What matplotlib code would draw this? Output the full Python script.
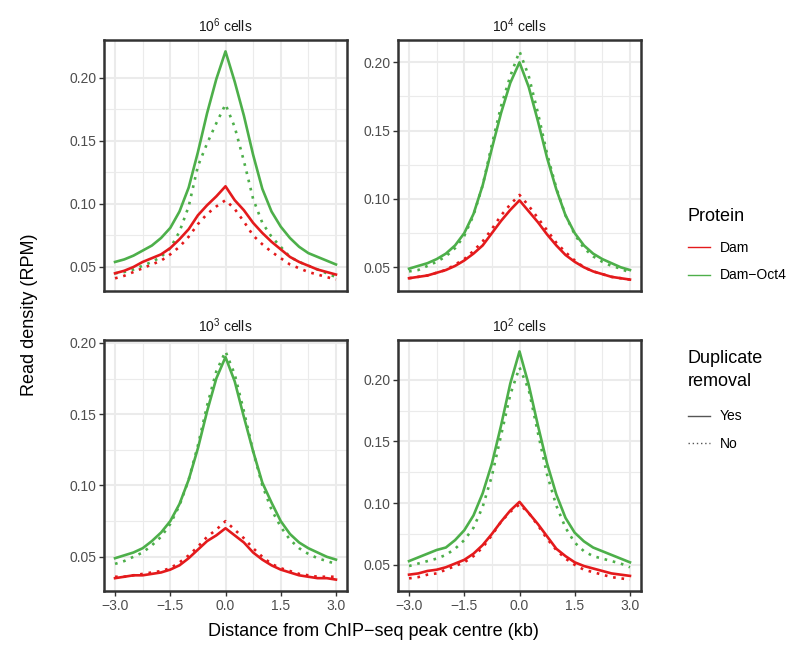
import numpy as np
import matplotlib
matplotlib.use("Agg")
import matplotlib.pyplot as plt
from matplotlib.lines import Line2D

plt.rcParams["font.family"] = ["Liberation Sans", "DejaVu Sans"]
plt.rcParams["mathtext.fontset"] = "custom"
plt.rcParams["mathtext.rm"] = "Liberation Sans"
plt.rcParams["mathtext.it"] = "Liberation Sans:italic"

# distance from peak centre (kb)
dist = [-3.0, -2.75, -2.5, -2.25, -2.0, -1.75, -1.5, -1.25, -1.0, -0.75, -0.5, -0.25, 0.0,
        0.25, 0.5, 0.75, 1.0, 1.25, 1.5, 1.75, 2.0, 2.25, 2.5, 2.75, 3.0]

panels = ["$10^6$ cells", "$10^4$ cells", "$10^3$ cells", "$10^2$ cells"]

# read density (RPM): [panel] -> series
oct4_yes = [
    [0.054, 0.056, 0.059, 0.063, 0.067, 0.073, 0.081, 0.094, 0.113, 0.141, 0.172, 0.199, 0.221,
     0.197, 0.170, 0.139, 0.112, 0.094, 0.082, 0.073, 0.066, 0.061, 0.058, 0.055, 0.052],
    [0.049, 0.051, 0.053, 0.056, 0.060, 0.066, 0.075, 0.089, 0.110, 0.137, 0.163, 0.185, 0.200,
     0.182, 0.157, 0.130, 0.107, 0.088, 0.075, 0.066, 0.060, 0.056, 0.053, 0.050, 0.048],
    [0.049, 0.051, 0.053, 0.056, 0.061, 0.067, 0.075, 0.087, 0.104, 0.126, 0.152, 0.175, 0.190,
     0.173, 0.148, 0.124, 0.102, 0.088, 0.075, 0.066, 0.060, 0.056, 0.053, 0.050, 0.048],
    [0.053, 0.056, 0.059, 0.062, 0.064, 0.070, 0.078, 0.090, 0.108, 0.132, 0.163, 0.197, 0.223,
     0.196, 0.163, 0.132, 0.107, 0.088, 0.076, 0.069, 0.064, 0.061, 0.058, 0.055, 0.052],
]
oct4_no = [
    [0.045, 0.046, 0.048, 0.051, 0.054, 0.058, 0.065, 0.078, 0.098, 0.130, 0.148, 0.164, 0.179,
     0.161, 0.134, 0.104, 0.085, 0.074, 0.066, 0.058, 0.054, 0.051, 0.048, 0.045, 0.042],
    [0.047, 0.048, 0.051, 0.054, 0.058, 0.064, 0.073, 0.088, 0.110, 0.140, 0.168, 0.190, 0.208,
     0.190, 0.163, 0.133, 0.108, 0.088, 0.074, 0.064, 0.058, 0.054, 0.051, 0.049, 0.046],
    [0.045, 0.047, 0.050, 0.053, 0.058, 0.064, 0.073, 0.086, 0.104, 0.128, 0.156, 0.180, 0.194,
     0.178, 0.152, 0.124, 0.100, 0.083, 0.071, 0.062, 0.056, 0.052, 0.049, 0.047, 0.045],
    [0.049, 0.051, 0.053, 0.055, 0.058, 0.063, 0.070, 0.080, 0.097, 0.122, 0.155, 0.188, 0.210,
     0.192, 0.157, 0.123, 0.098, 0.080, 0.068, 0.061, 0.057, 0.055, 0.053, 0.051, 0.048],
]
dam_yes = [
    [0.045, 0.047, 0.050, 0.054, 0.057, 0.060, 0.065, 0.072, 0.080, 0.091, 0.099, 0.106, 0.114,
     0.103, 0.095, 0.085, 0.077, 0.070, 0.064, 0.058, 0.054, 0.051, 0.048, 0.046, 0.044],
    [0.042, 0.043, 0.044, 0.046, 0.048, 0.051, 0.055, 0.060, 0.066, 0.075, 0.084, 0.092, 0.099,
     0.091, 0.083, 0.074, 0.066, 0.059, 0.054, 0.050, 0.047, 0.045, 0.043, 0.042, 0.041],
    [0.035, 0.036, 0.037, 0.037, 0.038, 0.039, 0.041, 0.044, 0.049, 0.055, 0.061, 0.065, 0.070,
     0.065, 0.060, 0.053, 0.048, 0.044, 0.041, 0.039, 0.037, 0.036, 0.035, 0.035, 0.034],
    [0.042, 0.043, 0.045, 0.046, 0.048, 0.051, 0.054, 0.059, 0.066, 0.075, 0.085, 0.094, 0.101,
     0.092, 0.083, 0.073, 0.063, 0.057, 0.052, 0.049, 0.047, 0.045, 0.043, 0.042, 0.041],
]
dam_no = [
    [0.041, 0.043, 0.046, 0.049, 0.052, 0.055, 0.060, 0.066, 0.074, 0.084, 0.092, 0.098, 0.103,
     0.096, 0.086, 0.075, 0.068, 0.062, 0.057, 0.052, 0.049, 0.046, 0.044, 0.042, 0.040],
    [0.042, 0.043, 0.044, 0.046, 0.048, 0.052, 0.056, 0.062, 0.069, 0.078, 0.088, 0.096, 0.103,
     0.095, 0.086, 0.077, 0.068, 0.061, 0.055, 0.050, 0.047, 0.045, 0.043, 0.042, 0.041],
    [0.036, 0.036, 0.037, 0.038, 0.039, 0.040, 0.042, 0.046, 0.051, 0.057, 0.064, 0.069, 0.075,
     0.069, 0.063, 0.056, 0.050, 0.045, 0.042, 0.040, 0.038, 0.037, 0.036, 0.036, 0.036],
    [0.039, 0.040, 0.042, 0.043, 0.046, 0.049, 0.052, 0.057, 0.064, 0.074, 0.085, 0.093, 0.099,
     0.092, 0.082, 0.071, 0.062, 0.055, 0.050, 0.046, 0.044, 0.042, 0.040, 0.039, 0.038],
]

RED = "#E41A1C"
GREEN = "#4DAF4A"
DOT = (0, (1, 2.2))
LW = 1.9

fig = plt.figure(figsize=(7.98, 6.68), dpi=100)

W, H = 798, 668
boxes = [(104, 40), (398, 40), (104, 340), (398, 340)]
pw, ph = 243, 251

for i, (x0, y0) in enumerate(boxes):
    ax = fig.add_axes([x0 / W, 1 - (y0 + ph) / H, pw / W, ph / H])
    ax.plot(dist, dam_no[i], color=RED, lw=LW, ls=DOT)
    ax.plot(dist, oct4_no[i], color=GREEN, lw=LW, ls=DOT)
    ax.plot(dist, dam_yes[i], color=RED, lw=LW)
    ax.plot(dist, oct4_yes[i], color=GREEN, lw=LW)

    allv = np.concatenate([oct4_yes[i], oct4_no[i], dam_yes[i], dam_no[i]])
    lo, hi = allv.min(), allv.max()
    pad = 0.05 * (hi - lo)
    ax.set_ylim(lo - pad, hi + pad)
    ax.set_xlim(-3.3, 3.3)

    ax.set_xticks([-3, -1.5, 0, 1.5, 3])
    ax.set_xticks([-2.25, -0.75, 0.75, 2.25], minor=True)
    ax.set_yticks([0.05, 0.10, 0.15, 0.20])
    ax.set_yticks([0.075, 0.125, 0.175], minor=True)
    ax.set_yticklabels(["0.05", "0.10", "0.15", "0.20"])
    if i < 2:
        ax.set_xticklabels([])
    else:
        ax.set_xticklabels(["\u22123.0", "\u22121.5", "0.0", "1.5", "3.0"])

    ax.grid(True, which="major", color="#EBEBEB", lw=1.5)
    ax.grid(True, which="minor", color="#EBEBEB", lw=0.8)
    ax.set_axisbelow(True)
    ax.tick_params(which="major", length=3.5, width=1.0, color="#333333",
                   labelsize=10, labelcolor="#4D4D4D", pad=2)
    ax.tick_params(which="minor", length=0)
    if i < 2:
        ax.tick_params(axis="x", which="major", length=0)
    for s in ax.spines.values():
        s.set_color("#333333")
        s.set_linewidth(1.8)
    ax.set_title(panels[i], fontsize=10, color="#1A1A1A", pad=6)

fig.text(30 / W, 1 - 315 / H, "Read density (RPM)", rotation=90,
         ha="center", va="center", fontsize=13)
fig.text(373 / W, 1 - 632 / H, "Distance from ChIP\u2212seq peak centre (kb)",
         ha="center", va="center", fontsize=13)

h1 = [Line2D([], [], color=RED, lw=1.0), Line2D([], [], color=GREEN, lw=1.0)]
leg1 = fig.legend(h1, ["Dam", "Dam\u2212Oct4"], title="Protein",
                  loc="upper left", bbox_to_anchor=(682 / W, 1 - 202 / H),
                  frameon=False, fontsize=10, title_fontsize=13,
                  handlelength=1.6, handletextpad=0.7, labelspacing=0.95,
                  borderaxespad=0)
leg1._legend_box.align = "left"
leg1._legend_box.sep = 12

h2 = [Line2D([], [], color="#555555", lw=1.0),
      Line2D([], [], color="#555555", lw=1.0, ls=(0, (1, 2)))]
leg2 = fig.legend(h2, ["Yes", "No"], title="Duplicate\nremoval",
                  loc="upper left", bbox_to_anchor=(682 / W, 1 - 344 / H),
                  frameon=False, fontsize=10, title_fontsize=13,
                  handlelength=1.6, handletextpad=0.7, labelspacing=0.95,
                  borderaxespad=0)
leg2._legend_box.align = "left"
leg2._legend_box.sep = 14
leg2.get_title().set_linespacing(1.5)

fig.savefig("out.png", dpi=100)
